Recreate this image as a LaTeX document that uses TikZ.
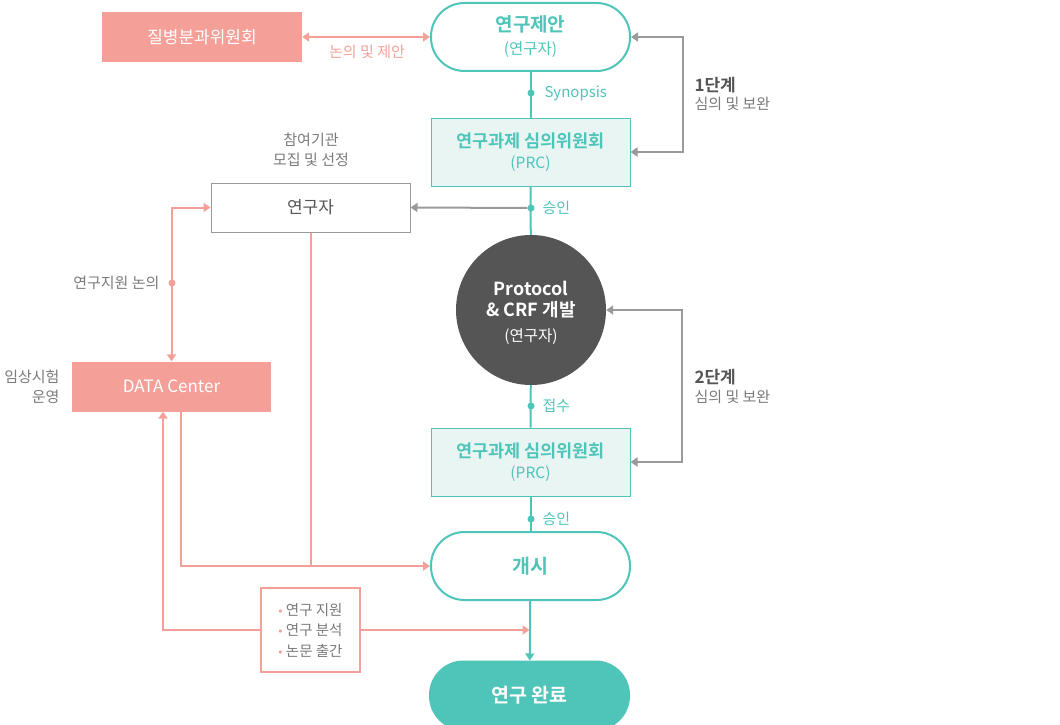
\documentclass[tikz,border=0pt]{standalone}
\usepackage{fontspec}
\setmainfont{Noto Sans CJK KR}[BoldFont={Noto Sans CJK KR Bold}]
\usetikzlibrary{arrows.meta,positioning}

\definecolor{salmon}{HTML}{F4A099}
\definecolor{tealc}{HTML}{4FC4B9}
\definecolor{tealbg}{HTML}{E8F5F3}
\definecolor{greyline}{HTML}{9A9A9A}
\definecolor{greytxt}{HTML}{7A7A7A}
\definecolor{darktxt}{HTML}{555555}
\definecolor{darkcirc}{HTML}{555555}

\tikzset{
  pill/.style={draw=tealc,line width=2pt,fill=white,rounded corners=33.5pt,
    minimum width=199pt,minimum height=68pt,text=tealc,align=center,inner sep=0pt},
  prcbox/.style={draw=tealc,line width=1pt,fill=tealbg,minimum width=199pt,
    minimum height=68pt,text=tealc,align=center,inner sep=0pt},
  pinkbox/.style={fill=salmon,text=white,minimum width=200pt,minimum height=50pt,
    inner sep=0pt,font=\fontsize{17}{20}\selectfont},
  tealline/.style={draw=tealc,line width=2pt},
  greyarrow/.style={draw=greyline,line width=2pt,arrows={<->},>={Triangle[width=9pt,length=7pt]}},
  pinkline/.style={draw=salmon,line width=2pt,>={Triangle[width=9pt,length=7pt]}},
  dotc/.style={circle,fill=#1,inner sep=0pt,minimum size=7pt},
  smalltxt/.style={font=\fontsize{15}{20}\selectfont},
  bigtitle/.style={font=\fontsize{19.5}{22}\selectfont\bfseries},
}
\newcommand{\pinkdot}{\textcolor{salmon}{\raisebox{1.8pt}{\fontsize{8}{8}\selectfont$\bullet$}}}

\begin{document}
\begin{tikzpicture}[x=1pt,y=-1pt]
  \useasboundingbox (0,0) rectangle (1060,725);

  % main column
  \node[pill,font=\fontsize{15.5}{23}\selectfont] (propose) at (530.5,37)
    {{\fontsize{19}{23}\selectfont\bfseries 연구제안}\\(연구자)};
  \node[prcbox,font=\fontsize{15.5}{21}\selectfont] (prc1) at (530.5,152)
    {{\fontsize{17.5}{21}\selectfont\bfseries 연구과제 심의위원회}\\(PRC)};
  \node[circle,fill=darkcirc,minimum size=150pt,inner sep=0pt] (proto) at (531,310) {};
  \node[text=white,align=center,font=\fontsize{15.5}{20}\selectfont] (prototxt) at (531,312.5)
    {{\fontsize{18}{20}\selectfont\bfseries Protocol}\\[1pt]{\fontsize{18}{20}\selectfont\bfseries \& CRF 개발}\\[5pt](연구자)};
  \node[prcbox,font=\fontsize{15.5}{21}\selectfont] (prc2) at (530.5,462)
    {{\fontsize{17.5}{21}\selectfont\bfseries 연구과제 심의위원회}\\(PRC)};
  \node[pill,bigtitle] (start) at (530.5,566) {개시};
  \node[pill,fill=tealc,draw=tealc,text=white,bigtitle] (done) at (529.5,695.5) {연구 완료};

  % side boxes
  \node[pinkbox] (disease) at (202,37) {질병분과위원회};
  \node[draw=greyline,line width=1pt,fill=white,text=darktxt,minimum width=199pt,minimum height=49pt,
    inner sep=0pt,font=\fontsize{17}{20}\selectfont] (researcher) at (310.5,207.5) {연구자};
  \node[pinkbox,minimum width=199pt] (datac) at (171.5,386.5) {DATA Center};
  \node[draw=salmon,line width=2pt,fill=white,minimum width=99pt,minimum height=84pt,inner sep=0pt,
    text=greytxt,align=left,font=\fontsize{14.5}{20.5}\selectfont] (tasks) at (310.5,630)
    {\pinkdot\ 연구 지원\\ \pinkdot\ 연구 분석\\ \pinkdot\ 논문 출간};

  % teal flow
  \draw[tealline] (propose) -- (prc1);
  \node[dotc=tealc] (d1) at (531,93) {};
  \node[smalltxt,text=tealc,anchor=west] (synlbl) at (541,93) {Synopsis};
  \draw[tealline] (prc1) -- (proto);
  \node[dotc=tealc] (d2) at (531,208) {};
  \node[smalltxt,text=tealc,anchor=west] (ok1lbl) at (539,208) {승인};
  \draw[tealline] (proto) -- (prc2);
  \node[dotc=tealc] (d3) at (531,406) {};
  \node[smalltxt,text=tealc,anchor=west] (rcvlbl) at (539,406) {접수};
  \draw[tealline] (prc2) -- (start);
  \node[dotc=tealc] (d4) at (531,519) {};
  \node[smalltxt,text=tealc,anchor=west] (ok2lbl) at (539,519) {승인};
  \draw[tealline,-{Triangle[width=9pt,length=7pt]}] (start) -- (done);

  % review loops
  \draw[greyarrow] (propose.east) -- ++(52,0) |- (prc1.east);
  \node[anchor=west,text=darktxt,font=\fontsize{17}{20}\selectfont\bfseries] (s1) at (691,85) {1단계};
  \node[anchor=west,text=greytxt,smalltxt] (s1b) at (691,104) {심의 및 보완};
  \draw[greyarrow] (proto.east) -- ++(76,0) |- (prc2.east);
  \node[anchor=west,text=darktxt,font=\fontsize{17}{20}\selectfont\bfseries] (s2) at (691,377) {2단계};
  \node[anchor=west,text=greytxt,smalltxt] (s2b) at (691,397) {심의 및 보완};
  \draw[draw=greyline,line width=2pt,-{Triangle[width=9pt,length=7pt]}] (d2) -- (researcher.east);

  % pink links
  \draw[pinkline,<->] (disease.east) -- (propose.west);
  \node[smalltxt,text=salmon] (discuss) at (367,52) {논의 및 제안};
  \node[smalltxt,text=greytxt,align=center] (recruit) at (311,150) {참여기관\\모집 및 선정};
  \draw[pinkline,<->] (datac.north) |- (researcher.west);
  \node[dotc=salmon] (d5) at (172,283) {};
  \node[smalltxt,text=greytxt,anchor=east] (supp) at (163,283) {연구지원 논의};
  \node[smalltxt,text=greytxt,align=right,anchor=east] (trial) at (63,387) {임상시험\\운영};
  \draw[pinkline,->] ([xshift=9.5pt]datac.south) |- (start.west);
  \draw[pinkline] (researcher.south) -- (researcher.south |- start.west);
  \draw[pinkline,<-] ([xshift=-8.5pt]datac.south) |- (tasks.west);
  \draw[pinkline,->] (tasks.east) -- (tasks.east -| done.north);
\end{tikzpicture}
\end{document}
